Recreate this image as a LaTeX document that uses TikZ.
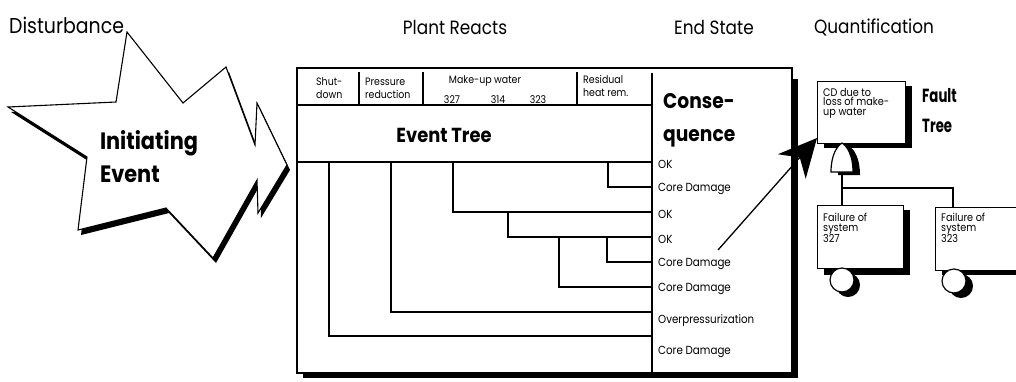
\documentclass[tikz,border=0pt]{standalone}
\usepackage{fontspec}
\setmainfont{Poppins}[FakeStretch=0.88]
\newfontfamily\narrowfont{Poppins}[FakeStretch=0.7]
\usetikzlibrary{arrows.meta}
\begin{document}
\begin{tikzpicture}[x=1pt,y=-1pt,line join=miter,
  ln/.style={line width=1.2pt},
  lbl/.style={anchor=west,inner sep=0pt,font=\fontsize{11.7}{12}\selectfont},
  hdr/.style={inner sep=0pt,align=left,font=\fontsize{10.7}{13}\selectfont},
  num/.style={inner sep=0pt,font=\fontsize{10.7}{12}\selectfont},
  small/.style={inner sep=0pt,align=left,anchor=north west,font=\fontsize{11}{9.4}\selectfont},
  big/.style={inner sep=0pt,align=left,font=\bfseries\fontsize{20.3}{30}\selectfont},
  title/.style={inner sep=0pt,font=\fontsize{19.2}{22}\selectfont},
  fbox/.style={draw,line width=1.2pt,fill=white,minimum width=86pt,minimum height=63pt,anchor=north west,inner sep=0pt},
  starpath/.style={insert path={(127,32) -- (183,103) -- (226,67) -- (255,145) -- (257,103) -- (287,165) -- (258,213) -- (257,180) -- (213,258) -- (166,208) -- (78,230) -- (87,157) -- (8,107) -- (116,102) -- cycle}},
  gatepath/.style={insert path={(831,172) .. controls (831,155) and (837,146) .. (842,143) .. controls (847,146) and (853,155) .. (853,172) -- cycle}}
]
\useasboundingbox (0,0) rectangle (1016,381);

% ---------- top titles ----------
\node[title,anchor=west,font=\fontsize{21.5}{24}\selectfont] (dist) at (9,25) {Disturbance};
\node[title] (plant) at (455,27) {Plant Reacts};
\node[title] (end) at (714,27) {End State};
\node[title] (quant) at (874,27) {Quantification};

% ---------- initiating event star ----------
\fill[shift={(3,5)},starpath];
\draw[line width=1.1pt,fill=white,starpath];
\node[big,font=\bfseries\fontsize{23.7}{33}\selectfont] (ie) at (149,157) {Initiating\\Event};

% ---------- event tree box ----------
\fill (303,79) rectangle (798,378);
\draw[ln,fill=white] (297,68) rectangle (792,373);
\draw[ln] (297,105) -- (652,105);
\draw[ln] (297,162) -- (652,162);
\draw[ln] (652,73) -- (652,373);
\draw[ln] (359,72) -- (359,105);
\draw[ln] (423,72) -- (423,105);
\draw[ln] (577,72) -- (577,105);

\node[hdr,anchor=west] (h1) at (316,88) {Shut-\\down};
\node[hdr,anchor=west] (h2) at (365,88) {Pressure\\reduction};
\node[num] (h3) at (485,81) {Make-up water};
\node[num] (n327) at (452,100) {327};
\node[num] (n314) at (498,100) {314};
\node[num] (n323) at (538,100) {323};
\node[hdr,anchor=west] (h4) at (583,86) {Residual\\heat rem.};

\node[big] (et) at (444,135) {Event Tree};
\node[big,anchor=west,font=\bfseries\fontsize{21.2}{33}\selectfont] (cons) at (663,120) {Conse-\\quence};

% consequences
\node[lbl] (c1) at (658,164) {OK};
\node[lbl] (c2) at (658,189) {Core Damage};
\node[lbl] (c3) at (658,214) {OK};
\node[lbl] (c4) at (658,239) {OK};
\node[lbl] (c5) at (658,264) {Core Damage};
\node[lbl] (c6) at (658,289) {Core Damage};
\node[lbl] (c7) at (658,321) {Overpressurization};
\node[lbl] (c8) at (658,352) {Core Damage};

% tree branches
\draw[ln] (608,162) |- (652,187);
\draw[ln] (453,162) |- (652,212);
\draw[ln] (508,212) |- (652,237);
\draw[ln] (607,237) |- (652,262);
\draw[ln] (559,237) |- (652,287);
\draw[ln] (391,162) |- (652,312);
\draw[ln] (329,162) |- (652,336);

% ---------- fault tree ----------
\fill (824,86) rectangle (912,148);
\node[fbox,minimum width=88pt,minimum height=62pt] (top) at (817,81) {};
\node[small] (toptxt) at (823,88) {CD due to\\loss of make-\\up water};
\node[big,anchor=west,font=\narrowfont\bfseries\fontsize{19}{30}\selectfont] (ft) at (922,111) {Fault\\Tree};

\fill[shift={(7,3)},gatepath];
\draw[ln,fill=white,gatepath];
\coordinate (g) at (842,172);

\fill (824,210) rectangle (910,275);
\node[fbox] (f1) at (817,205) {};
\node[small] (f1t) at (823,213) {Failure of\\system\\327};
\fill (942,212) rectangle (1028,275);
\node[fbox] (f2) at (935,207) {};
\node[small] (f2t) at (941,213) {Failure of\\system\\323};

\fill (848,285) circle[radius=12pt];
\draw[ln,fill=white] (842,280) circle[radius=12pt];
\fill (961,286) circle[radius=12pt];
\draw[ln,fill=white] (954,281) circle[radius=12pt];

\coordinate (f1top) at (842,205);
\coordinate (f2top) at (953,207);
\coordinate (split) at (842,188);
\draw[ln] (g) -- (f1top);
\draw[ln] (split) -| (f2top);

% ---------- connector from consequence to fault tree ----------
\coordinate (cdstart) at (718,250);
\coordinate (cdtip) at (817,138);
\draw[line width=1.3pt,-{Stealth[length=38pt,width=37pt,inset=12pt]}] (cdstart) -- (cdtip);
\end{tikzpicture}
\end{document}
